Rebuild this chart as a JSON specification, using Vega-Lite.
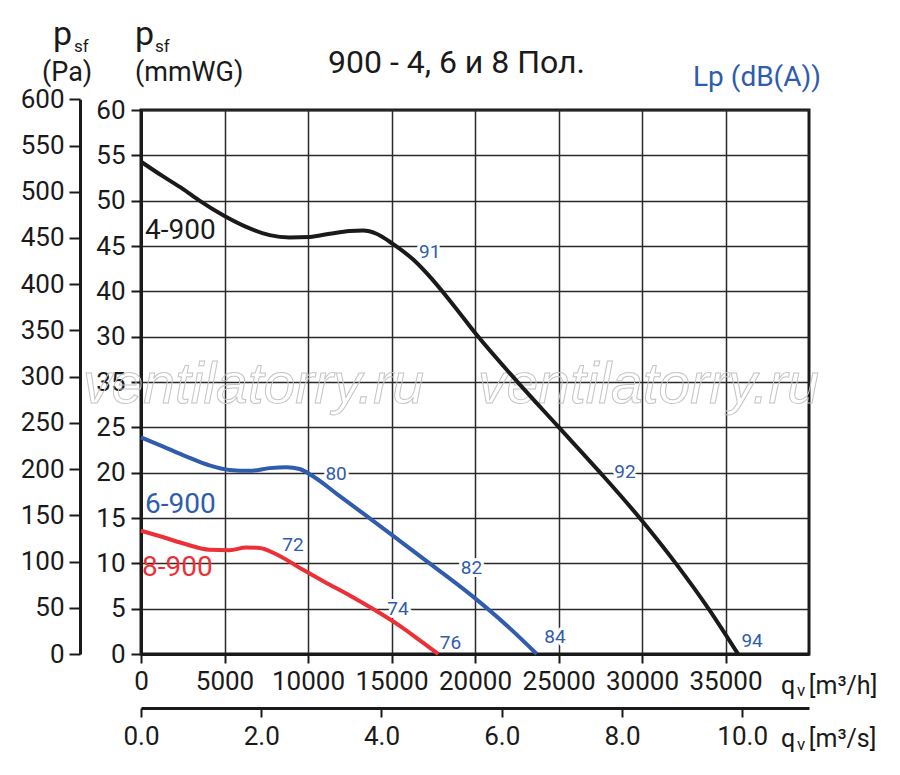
{
  "$schema": "https://vega.github.io/schema/vega-lite/v6.json",
  "width": 668,
  "height": 544,
  "autosize": "none",
  "padding": {"left": 141, "top": 110, "right": 91, "bottom": 121},
  "background": "#ffffff",
  "config": {
    "view": {"stroke": "#1a1a1a", "strokeWidth": 3},
    "font": "Roboto",
    "axis": {
      "labelFont": "Roboto",
      "labelFontSize": 26,
      "labelColor": "#1a1a1a",
      "domainColor": "#1a1a1a",
      "domainWidth": 3,
      "tickColor": "#1a1a1a",
      "tickWidth": 2,
      "gridColor": "#2a2a2a",
      "gridWidth": 1.5,
      "labelFlush": false,
      "labelOverlap": false,
      "labelBound": false
    },
    "text": {"font": "Roboto"}
  },
  "datasets": {
    "curves": [
      {"fan": "4-900", "x": 0, "y": 54.3},
      {"fan": "4-900", "x": 1300, "y": 52.7},
      {"fan": "4-900", "x": 2500, "y": 51.3},
      {"fan": "4-900", "x": 3500, "y": 50.0},
      {"fan": "4-900", "x": 5000, "y": 48.3},
      {"fan": "4-900", "x": 6300, "y": 47.1},
      {"fan": "4-900", "x": 7700, "y": 46.2},
      {"fan": "4-900", "x": 8900, "y": 45.95},
      {"fan": "4-900", "x": 10100, "y": 46.0},
      {"fan": "4-900", "x": 11300, "y": 46.35},
      {"fan": "4-900", "x": 12500, "y": 46.65},
      {"fan": "4-900", "x": 13300, "y": 46.7},
      {"fan": "4-900", "x": 14100, "y": 46.35},
      {"fan": "4-900", "x": 15100, "y": 45.2},
      {"fan": "4-900", "x": 16300, "y": 43.5},
      {"fan": "4-900", "x": 17400, "y": 41.4},
      {"fan": "4-900", "x": 18700, "y": 38.5},
      {"fan": "4-900", "x": 20100, "y": 35.2},
      {"fan": "4-900", "x": 22500, "y": 30.1},
      {"fan": "4-900", "x": 25000, "y": 25.05},
      {"fan": "4-900", "x": 27500, "y": 20.0},
      {"fan": "4-900", "x": 30000, "y": 14.7},
      {"fan": "4-900", "x": 32000, "y": 10.05},
      {"fan": "4-900", "x": 34000, "y": 4.95},
      {"fan": "4-900", "x": 35750, "y": 0},
      {"fan": "6-900", "x": 0, "y": 23.9},
      {"fan": "6-900", "x": 1300, "y": 22.9},
      {"fan": "6-900", "x": 2700, "y": 21.8},
      {"fan": "6-900", "x": 4100, "y": 20.8},
      {"fan": "6-900", "x": 5300, "y": 20.3},
      {"fan": "6-900", "x": 6500, "y": 20.2},
      {"fan": "6-900", "x": 7700, "y": 20.5},
      {"fan": "6-900", "x": 8700, "y": 20.6},
      {"fan": "6-900", "x": 9500, "y": 20.4},
      {"fan": "6-900", "x": 10300, "y": 19.6},
      {"fan": "6-900", "x": 11700, "y": 17.7},
      {"fan": "6-900", "x": 13300, "y": 15.5},
      {"fan": "6-900", "x": 15300, "y": 12.75},
      {"fan": "6-900", "x": 17500, "y": 9.7},
      {"fan": "6-900", "x": 19900, "y": 6.3},
      {"fan": "6-900", "x": 21900, "y": 3.15},
      {"fan": "6-900", "x": 23700, "y": 0},
      {"fan": "8-900", "x": 0, "y": 13.6},
      {"fan": "8-900", "x": 1300, "y": 12.9},
      {"fan": "8-900", "x": 2700, "y": 12.1},
      {"fan": "8-900", "x": 4100, "y": 11.5},
      {"fan": "8-900", "x": 5300, "y": 11.45},
      {"fan": "8-900", "x": 6300, "y": 11.75},
      {"fan": "8-900", "x": 7100, "y": 11.7},
      {"fan": "8-900", "x": 8100, "y": 11.0},
      {"fan": "8-900", "x": 9600, "y": 9.4},
      {"fan": "8-900", "x": 11000, "y": 7.95},
      {"fan": "8-900", "x": 12500, "y": 6.45},
      {"fan": "8-900", "x": 14000, "y": 4.85},
      {"fan": "8-900", "x": 15500, "y": 3.1},
      {"fan": "8-900", "x": 16700, "y": 1.5},
      {"fan": "8-900", "x": 17800, "y": 0}
    ],
    "db": [
      {"db": "91", "x": 17290, "y": 43.7},
      {"db": "92", "x": 28980, "y": 19.45},
      {"db": "94", "x": 36590, "y": 0.75},
      {"db": "80", "x": 11680, "y": 19.2},
      {"db": "82", "x": 19790, "y": 8.85},
      {"db": "84", "x": 24790, "y": 1.2},
      {"db": "72", "x": 9100, "y": 11.4},
      {"db": "74", "x": 15390, "y": 4.25},
      {"db": "76", "x": 18530, "y": 0.57}
    ]
  },
  "layer": [
    {
      "encoding": {
        "x": {
          "field": "x",
          "type": "quantitative",
          "scale": {"domain": [0, 40000], "nice": false},
          "axis": {
            "values": [0, 5000, 10000, 15000, 20000, 25000, 30000, 35000],
            "format": "d",
            "grid": true,
            "tickSize": 9,
            "labelPadding": 5,
            "title": null
          }
        },
        "y": {
          "field": "y",
          "type": "quantitative",
          "scale": {"domain": [0, 60], "nice": false},
          "axis": {
            "values": [0, 5, 10, 15, 20, 25, 30, 35, 40, 45, 50, 55, 60],
            "format": "d",
            "labelExpr": "datum.value == 35 ? '30' : datum.value == 30 ? '35' : datum.label",
            "grid": true,
            "tickSize": 10,
            "labelPadding": 6,
            "title": null
          }
        }
      },
      "layer": [
        {
          "data": {"values": [
            {"x": -3473, "y": 27.65, "t": "ventilatorry.ru"},
            {"x": 20180, "y": 27.65, "t": "ventilatorry.ru"}
          ]},
          "mark": {"type": "text", "align": "left", "baseline": "alphabetic", "font": "Liberation Sans", "fontStyle": "italic", "fontSize": 57, "fill": "transparent", "stroke": "#c4c4c4", "strokeWidth": 1},
          "encoding": {"text": {"field": "t"}}
        },
        {
          "data": {"name": "db"},
          "mark": {"type": "text", "align": "center", "baseline": "alphabetic", "fontSize": 19, "fill": "#ffffff", "stroke": "#ffffff", "strokeWidth": 6, "strokeJoin": "round"},
          "encoding": {"text": {"field": "db"}}
        },
        {
          "data": {"name": "curves"},
          "mark": {"type": "line", "strokeWidth": 4, "interpolate": "monotone"},
          "encoding": {
            "color": {
              "field": "fan",
              "type": "nominal",
              "scale": {"domain": ["4-900", "6-900", "8-900"], "range": ["#1a1a1a", "#2f5cac", "#ec3038"]},
              "legend": null
            }
          }
        },
        {
          "data": {"name": "db"},
          "mark": {"type": "text", "align": "center", "baseline": "alphabetic", "fontSize": 19, "color": "#2f5cac"},
          "encoding": {"text": {"field": "db"}}
        },
        {
          "data": {"values": [
            {"fan": "4-900", "x": 240, "y": 45.76},
            {"fan": "6-900", "x": 240, "y": 15.5},
            {"fan": "8-900", "x": 60, "y": 8.56}
          ]},
          "mark": {"type": "text", "align": "left", "baseline": "alphabetic", "fontSize": 28},
          "encoding": {
            "text": {"field": "fan"},
            "color": {"field": "fan", "type": "nominal", "legend": null}
          }
        },
        {
          "data": {"values": [{"x": 18890, "y": 64.1, "t": "900 - 4, 6 и 8 Пол."}]},
          "mark": {"type": "text", "align": "center", "baseline": "alphabetic", "fontSize": 32, "color": "#1a1a1a"},
          "encoding": {"text": {"field": "t"}}
        },
        {
          "data": {"values": [{"x": 36886, "y": 62.65, "t": "Lp (dB(A))"}]},
          "mark": {"type": "text", "align": "center", "baseline": "alphabetic", "fontSize": 28, "color": "#2f5cac"},
          "encoding": {"text": {"field": "t"}}
        },
        {
          "data": {"values": [
            {"x": -5270, "y": 67.2, "t": "p"},
            {"x": -359, "y": 67.2, "t": "p"}
          ]},
          "mark": {"type": "text", "align": "left", "baseline": "alphabetic", "fontSize": 34, "color": "#1a1a1a"},
          "encoding": {"text": {"field": "t"}}
        },
        {
          "data": {"values": [
            {"x": -4012, "y": 66.4, "t": "sf"},
            {"x": 838, "y": 66.4, "t": "sf"},
            {"x": 39281, "y": -4.58, "t": "v"},
            {"x": 39281, "y": -10.55, "t": "v"}
          ]},
          "mark": {"type": "text", "align": "left", "baseline": "alphabetic", "fontSize": 17, "color": "#1a1a1a"},
          "encoding": {"text": {"field": "t"}}
        },
        {
          "data": {"values": [
            {"x": -5928, "y": 63.25, "t": "(Pa)"},
            {"x": -359, "y": 63.25, "t": "(mmWG)"}
          ]},
          "mark": {"type": "text", "align": "left", "baseline": "alphabetic", "fontSize": 27, "color": "#1a1a1a"},
          "encoding": {"text": {"field": "t"}}
        },
        {
          "data": {"values": [
            {"x": 38323, "y": -4.36, "t": "q"},
            {"x": 39990, "y": -4.36, "t": "[m³/h]"},
            {"x": 38323, "y": -10.3, "t": "q"},
            {"x": 39990, "y": -10.3, "t": "[m³/s]"}
          ]},
          "mark": {"type": "text", "align": "left", "baseline": "alphabetic", "fontSize": 25, "color": "#1a1a1a"},
          "encoding": {"text": {"field": "t"}}
        }
      ]
    },
    {
      "data": {"values": [{"pa": 0}, {"pa": 600}]},
      "mark": {"type": "point", "opacity": 0},
      "encoding": {
        "y": {
          "field": "pa",
          "type": "quantitative",
          "scale": {"domain": [0, 600], "range": [544, -10.7], "nice": false},
          "axis": {
            "orient": "left",
            "offset": 61,
            "values": [0, 50, 100, 150, 200, 250, 300, 350, 400, 450, 500, 550, 600],
            "format": "d",
            "grid": false,
            "tickSize": 11,
            "labelPadding": 5,
            "title": null
          }
        }
      }
    },
    {
      "data": {"values": [{"qs": 0}, {"qs": 11.1111}]},
      "mark": {"type": "point", "opacity": 0},
      "encoding": {
        "x": {
          "field": "qs",
          "type": "quantitative",
          "scale": {"domain": [0, 11.1111], "nice": false},
          "axis": {
            "orient": "bottom",
            "offset": 54,
            "values": [0, 2, 4, 6, 8, 10],
            "format": ".1f",
            "grid": false,
            "tickSize": 9,
            "labelPadding": 6,
            "title": null
          }
        }
      }
    }
  ],
  "resolve": {
    "scale": {"x": "independent", "y": "independent"},
    "axis": {"x": "independent", "y": "independent"}
  }
}
